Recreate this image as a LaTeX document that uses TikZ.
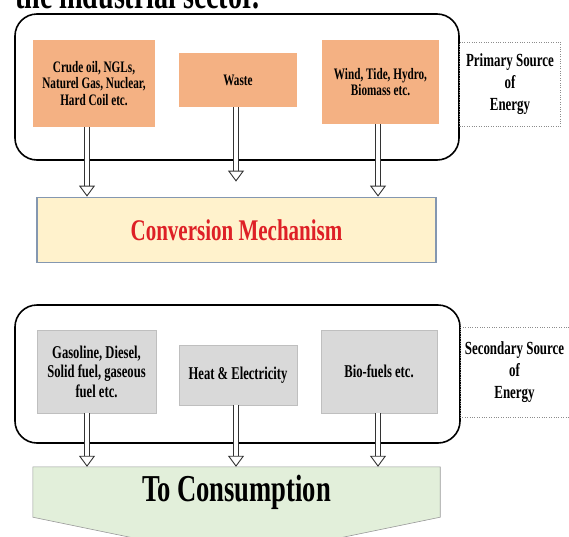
\documentclass[tikz,border=0pt]{standalone}
\usepackage{fontspec}
\setmainfont[FakeStretch=0.7]{Liberation Serif}
\usepackage{xcolor}
\usetikzlibrary{arrows.meta,backgrounds}
\definecolor{srcorange}{RGB}{244,177,131}
\definecolor{secgray}{RGB}{217,217,217}
\definecolor{convfill}{RGB}{255,242,204}
\definecolor{convline}{RGB}{132,151,176}
\definecolor{consfill}{RGB}{226,239,218}
\definecolor{convred}{RGB}{222,32,38}

\begin{document}
\begin{tikzpicture}[x=1pt,y=-1pt,
  frame/.style={draw=black, line width=1.6pt, rounded corners=22pt, inner sep=0pt},
  srcbox/.style={fill=srcorange, inner sep=0pt, align=center, font=\bfseries\fontsize{16}{16.5}\selectfont},
  secbox/.style={fill=secgray, draw=black!25, line width=0.5pt, inner sep=0pt, align=center, font=\bfseries\fontsize{18}{19.5}\selectfont},
  srclabel/.style={draw=black!45, dotted, inner sep=0pt, align=center, font=\bfseries\fontsize{18.5}{22}\selectfont},
  flow/.style={draw=black!80, line width=0.9pt, double=white, double distance=3.8pt, -{Triangle[open, width=16pt, length=11pt]}}]
\path[use as bounding box, clip] (0,0) rectangle (569,536);
%% text line above, cut by the page
\node[anchor=base west, font=\bfseries\fontsize{40}{40}\selectfont, inner sep=0pt] (head) at (15,8) {the industrial sector.};
%% primary sources
\node[frame, minimum width=444, minimum height=146] (upper) at (237,87) {};
\node[srcbox, minimum width=122, minimum height=87] (o1) at (94,83.5) {Crude oil, NGLs,\\Naturel Gas, Nuclear,\\Hard Coil etc.};
\node[srcbox, minimum width=118, minimum height=54] (o2) at (238,80) {Waste};
\node[srcbox, minimum width=117, minimum height=84] (o3) at (380.5,82) {Wind, Tide, Hydro,\\Biomass etc.};
\node[srclabel, minimum width=101, minimum height=84] (prim) at (510,84) {Primary Source\\of\\Energy};
%% conversion
\node[draw=convline, fill=convfill, line width=1.8pt, minimum width=399, minimum height=65, text=convred, font=\bfseries\fontsize{30}{30}\selectfont] (conv) at (236.5,230) {Conversion Mechanism};
%% secondary sources
\node[frame, minimum width=445, minimum height=138] (lower) at (237.5,374) {};
\node[secbox, minimum width=119, minimum height=83] (g1) at (96.5,371.5) {Gasoline, Diesel,\\Solid fuel, gaseous\\fuel etc.};
\node[secbox, minimum width=118, minimum height=60] (g2) at (238,375) {Heat \& Electricity};
\node[secbox, minimum width=116, minimum height=83] (g3) at (379,371.5) {Bio-fuels etc.};
\node[srclabel, minimum width=109, minimum height=90] (sec) at (514.5,372) {Secondary Source\\of\\Energy};
%% consumption
\node[minimum width=407, minimum height=50, inner sep=0pt, font=\bfseries\fontsize{38}{38}\selectfont] (cons) at (236.5,492) {\raisebox{-7pt}{To Consumption}};
\begin{scope}[on background layer]
\draw[draw=black!40, fill=consfill, line width=0.6pt] (cons.north west) -- (cons.north east) -- (cons.south east) -- ([yshift=-42pt]cons.south) -- (cons.south west) -- cycle;
\end{scope}
%% arrows
\coordinate (c1) at (87,0);
\coordinate (c2) at (236,0);
\coordinate (c3) at (378,0);
\draw[flow] (o1.south -| c1) -- (conv.north -| c1);
\draw[flow] (o2.south -| c2) -- ([yshift=15pt]conv.north -| c2);
\draw[flow] (o3.south -| c3) -- (conv.north -| c3);
\draw[flow] (g1.south -| c1) -- (cons.north -| c1);
\draw[flow] (g2.south -| c2) -- (cons.north -| c2);
\draw[flow] (g3.south -| c3) -- (cons.north -| c3);
\end{tikzpicture}
\end{document}
